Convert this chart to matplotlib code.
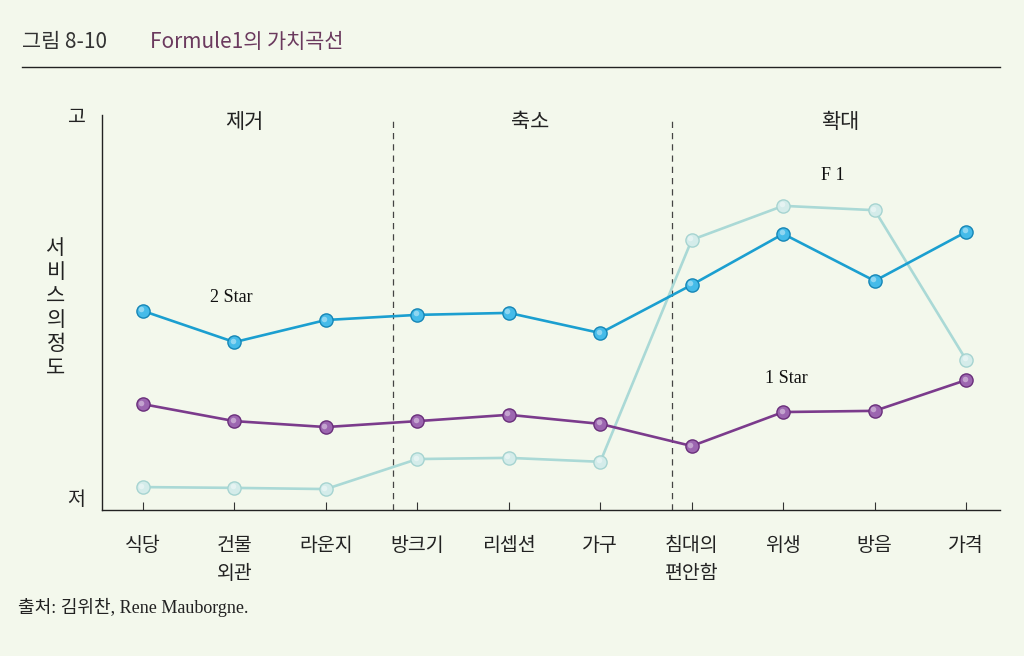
import numpy as np
import matplotlib.pyplot as plt
import matplotlib.transforms as mtransforms

plt.rcParams['font.family'] = ['Noto Sans CJK KR', 'DejaVu Sans']

# 데이터
items = ["식당", "건물\n외관", "라운지", "방크기", "리셉션", "가구", "침대의\n편안함", "위생", "방음", "가격"]
star2 = [50.4, 42.5, 48.1, 49.4, 49.9, 44.8, 57.0, 69.9, 58.0, 70.4]
star1 = [26.8, 22.5, 21.0, 22.5, 24.1, 21.8, 16.2, 24.8, 25.1, 32.9]
f1 = [5.8, 5.6, 5.3, 12.9, 13.2, 12.2, 68.4, 77.0, 75.9, 38.0]
sections = ["제거", "축소", "확대"]
section_x = [1.11, 4.23, 7.62]
divider_x = [2.73, 5.78]

bg = "#f3f8ec"
serif = ['Liberation Serif', 'Noto Sans CJK KR']

fig = plt.figure(figsize=(10.24, 6.56), dpi=100, facecolor=bg)
ax = fig.add_axes([102 / 1024, 1 - 510 / 656, 898 / 1024, 395 / 656])
ax.set_facecolor(bg)

x = np.arange(len(items))
# 구슬 느낌의 하이라이트 (왼쪽 위)
hl = mtransforms.offset_copy(ax.transData, fig=fig, x=-1.5, y=1.5, units='dots')


def draw_series(vals, line_c, face_c, edge_c, z):
    ax.plot(x, vals, color=line_c, lw=1.9, zorder=z)
    ax.plot(x, vals, 'o', ms=9.5, mfc=face_c, mec=edge_c, mew=1.0, zorder=z + 0.1)
    ax.plot(x, vals, 'o', ms=4, mfc='white', mec='none', alpha=0.4, zorder=z + 0.2, transform=hl)


draw_series(f1, "#aad9d6", "#d4ecea", "#a6d4d1", 2)
draw_series(star1, "#7b3b8c", "#9c66b0", "#6a2f7b", 3)
draw_series(star2, "#1b9fd0", "#45bbe9", "#1686b6", 4)

for dx in divider_x:
    ax.plot([dx, dx], [0, 98.7], color="#444444", lw=0.9, ls=(0, (5, 4)), zorder=1)

for lbl, sx in zip(sections, section_x):
    ax.text(sx, 98.2, lbl, ha='center', va='center', fontsize=15, color="#222222")

ax.text(0.97, 53.7, "2 Star", ha='center', va='center', fontsize=13, family=serif, color="#111111")
ax.text(7.54, 84.8, "F 1", ha='center', va='center', fontsize=13, family=serif, color="#111111")
ax.text(7.03, 33.4, "1 Star", ha='center', va='center', fontsize=13, family=serif, color="#111111")

ax.set_xlim(-0.448, 9.37)
ax.set_ylim(0, 100)
ax.set_xticks(x)
ax.set_xticklabels(items, fontsize=14, color="#222222", linespacing=1.45, va='top')
ax.tick_params(axis='x', direction='in', length=6, width=0.8, color="#333333", pad=18)
ax.set_yticks([100, 3.3])
ax.set_yticklabels(["고", "저"], fontsize=14, color="#222222")
ax.tick_params(axis='y', length=0, pad=12)
for s in ['top', 'right']:
    ax.spines[s].set_visible(False)
for s in ['left', 'bottom']:
    ax.spines[s].set_color("#222222")
    ax.spines[s].set_linewidth(1.0)

# 세로 축 제목
fig.text(56 / 1024, 1 - 308 / 656, "\n".join("서비스의 정도".replace(" ", "")), ha='center', va='center',
         fontsize=15, color="#222222", linespacing=1.12)

# 제목
fig.text(22 / 1024, 1 - 42 / 656, "그림 8-10", ha='left', va='center', fontsize=15, color="#333333")
fig.text(150 / 1024, 1 - 42 / 656, "Formule1의 가치곡선", ha='left', va='center', fontsize=15, color="#6b3a5e")
fig.add_artist(plt.Line2D([22 / 1024, 1000 / 1024], [1 - 67 / 656, 1 - 67 / 656], color="#222222", lw=1.0))

# 출처
fig.text(18 / 1024, 1 - 607 / 656, "출처: 김위찬, Rene Mauborgne.", ha='left', va='center', fontsize=13,
         family=serif, color="#222222")

fig.savefig("out.png", dpi=100, facecolor=bg)
